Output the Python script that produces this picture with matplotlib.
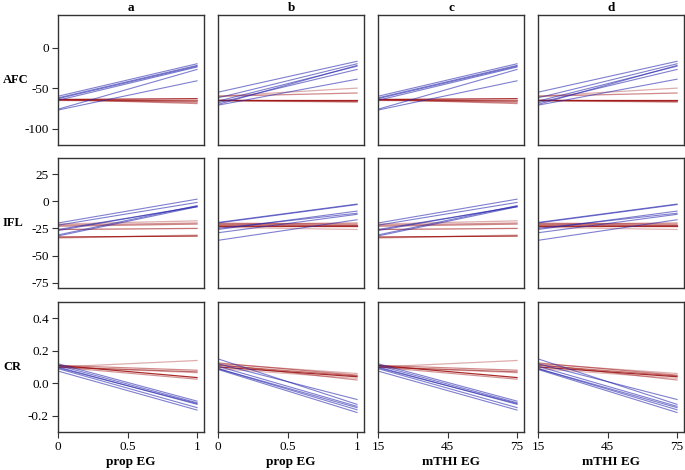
import matplotlib.pyplot as plt

plt.rcParams['font.family'] = ['Liberation Serif', 'DejaVu Serif']

# line endpoints (value at x-min, value at x-max); columns c/d repeat a/b
afc_a_blue = [(-60, -20), (-62, -22), (-63, -23), (-65, -24), (-76, -27), (-77, -41)]
afc_a_red = [(-65, -67), (-64, -64), (-64, -66), (-64, -63), (-64, -68), (-64, -69)]
afc_b_blue = [(-55, -17), (-62, -20), (-66, -23), (-68, -27), (-70, -22), (-71, -39)]
afc_b_red = [(-60, -50), (-60, -56), (-65, -66), (-65, -65), (-66, -67), (-65, -67)]

ifl_a_blue = [(-20, 2), (-22, -1), (-26, -5), (-27, -4.5), (-32, -5), (-31, -4)]
ifl_a_red = [(-21, -18), (-23, -21), (-26, -25), (-33, -32), (-34, -31), (-22, -20)]
ifl_b_blue = [(-20, -3), (-19.5, -2.5), (-26, -9), (-29, -12), (-36, -17), (-25, -11)]
ifl_b_red = [(-20, -21), (-21, -22), (-22, -22), (-23, -23), (-24, -26), (-21, -20)]

cr_a_blue = [(0.12, -0.11), (0.11, -0.12), (0.10, -0.13), (0.095, -0.125), (0.09, -0.15), (0.075, -0.165)]
cr_a_red = [(0.10, 0.14), (0.11, 0.08), (0.10, 0.07), (0.11, 0.035), (0.10, 0.065), (0.10, 0.025)]
cr_b_blue = [(0.15, -0.13), (0.12, -0.10), (0.105, -0.142), (0.09, -0.163), (0.085, -0.18), (0.09, -0.15)]
cr_b_red = [(0.12, 0.06), (0.125, 0.05), (0.11, 0.045), (0.10, 0.04), (0.09, 0.03), (0.115, 0.02)]

red_alpha = [0.35, 0.5, 0.6, 0.9, 0.3, 0.45]

rows = ["AFC", "IFL", "CR"]
cols = ["a", "b", "c", "d"]
xlabels = ["prop EG", "prop EG", "mTHI EG", "mTHI EG"]
xranges = [(0, 1), (0, 1), (15, 75), (15, 75)]
xticks = [[0, 0.5, 1], [0, 0.5, 1], [15, 45, 75], [15, 45, 75]]
xticklabels = [["0", "0.5", "1"], ["0", "0.5", "1"], ["15", "45", "75"], ["15", "45", "75"]]

ylims = [(-120, 40), (-80, 40), (-0.3, 0.5)]
yticks = [[-100, -50, 0], [-75, -50, -25, 0, 25], [-0.2, 0.0, 0.2, 0.4]]
yticklabels = [["-100", "-50", "0"], ["-75", "-50", "-25", "0", "25"], ["-0.2", "0.0", "0.2", "0.4"]]

data = [
    [(afc_a_blue, afc_a_red), (afc_b_blue, afc_b_red)],
    [(ifl_a_blue, ifl_a_red), (ifl_b_blue, ifl_b_red)],
    [(cr_a_blue, cr_a_red), (cr_b_blue, cr_b_red)],
]

W, H = 685, 470
fig = plt.figure(figsize=(W / 100, H / 100), dpi=100)

lefts = [58, 218, 378, 538]
tops = [15, 158, 302]
aw, ah = 146, 130

for r in range(3):
    for c in range(4):
        ax = fig.add_axes([lefts[c] / W, 1 - (tops[r] + ah) / H, aw / W, ah / H])
        blue, red = data[r][c % 2]
        x0, x1 = xranges[c]
        for k, (a, b) in enumerate(red):
            ax.plot([x0, x1], [a, b], color="#a01515", alpha=red_alpha[k], lw=0.9)
        for a, b in blue:
            ax.plot([x0, x1], [a, b], color="#2a2ab0", alpha=0.6, lw=0.8)
        ax.set_xlim(x0, x0 + (x1 - x0) * 1.05)
        ax.set_ylim(*ylims[r])
        for s in ax.spines.values():
            s.set_color("#333333")
            s.set_linewidth(1.0)
        ax.tick_params(colors="#333333", labelcolor="black", length=4, width=0.8,
                       labelsize=9.5, pad=2.5)
        if c == 0:
            ax.set_yticks(yticks[r])
            ax.set_yticklabels(yticklabels[r])
        else:
            ax.set_yticks([])
        if r == 2:
            ax.set_xticks(xticks[c])
            ax.set_xticklabels(xticklabels[c])
            ax.set_xlabel(xlabels[c], fontsize=9.5, fontweight="bold", labelpad=2)
        else:
            ax.set_xticks([])
        if r == 0:
            ax.set_title(cols[c], fontsize=9.5, fontweight="bold", pad=3)
    fig.text(3 / W, 1 - (tops[r] + ah / 2) / H, rows[r], ha="left", va="center",
             fontsize=9, fontweight="bold")

fig.savefig("out.png", dpi=100)
